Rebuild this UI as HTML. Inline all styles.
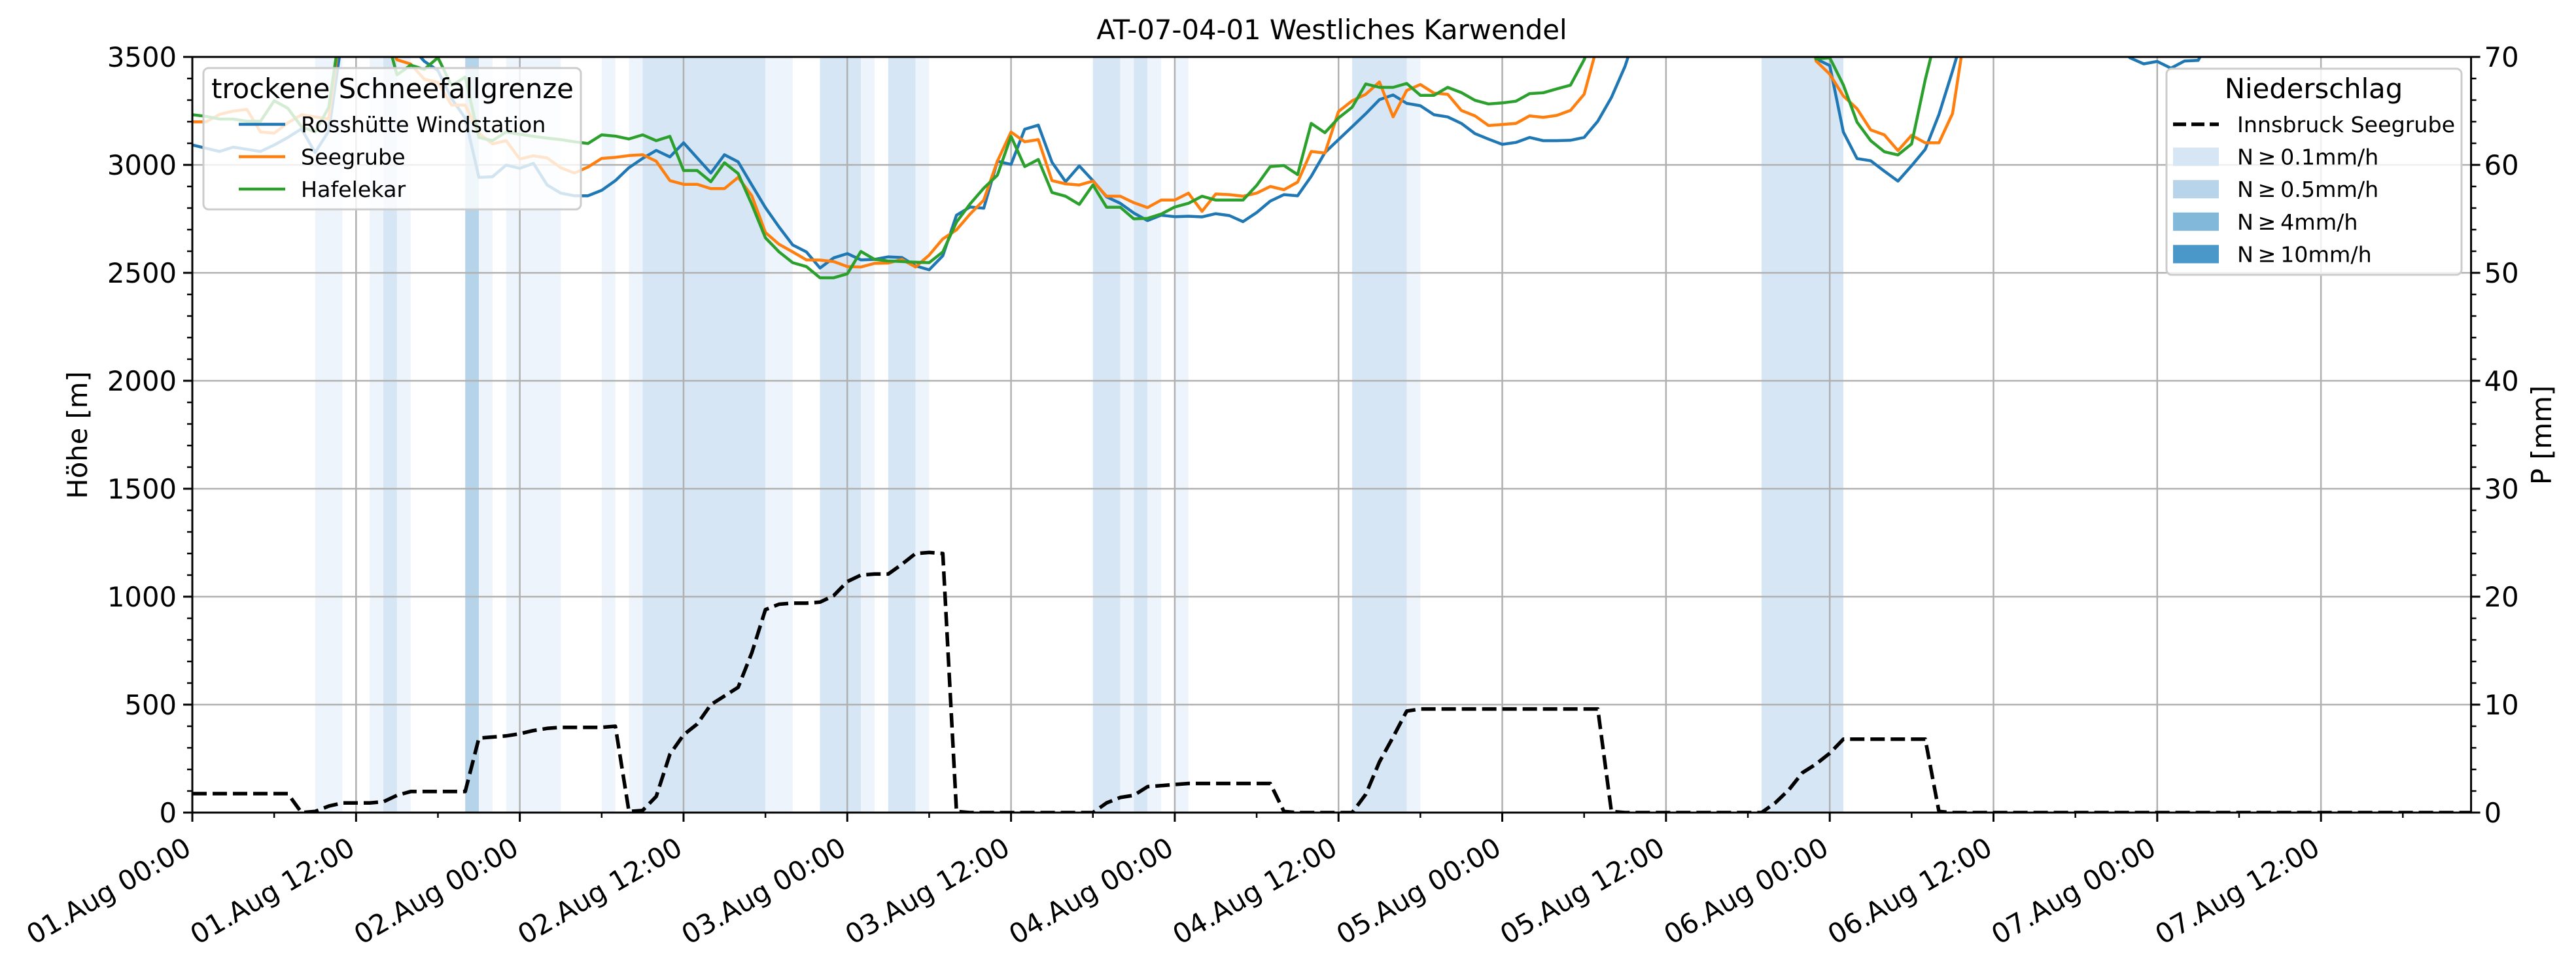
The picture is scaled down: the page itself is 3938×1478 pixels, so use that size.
<!DOCTYPE html>
<html><head><meta charset="utf-8"><title>AT-07-04-01 Westliches Karwendel</title>
<style>
html,body{margin:0;padding:0;background:#fff;}
svg{display:block;font-family:"DejaVu Sans","Liberation Sans",sans-serif;}
</style></head>
<body>
<svg id="chart" xmlns="http://www.w3.org/2000/svg" width="3938" height="1478" viewBox="0 0 3938 1478">
<defs><clipPath id="plotclip"><rect x="294" y="87" width="3484" height="1155"/></clipPath></defs>
<rect x="0" y="0" width="3938" height="1478" fill="#fff"/>
<g id="bands" clip-path="url(#plotclip)"></g>
<g id="grid"></g>
<g id="series" clip-path="url(#plotclip)"></g>
<g id="axes"></g>
<g id="legends"></g>
<text x="2036" y="60" font-size="41.7" text-anchor="middle">AT-07-04-01 Westliches Karwendel</text>
<text transform="translate(133,665) rotate(-90)" font-size="41.7" text-anchor="middle">Höhe [m]</text>
<text transform="translate(3900,665) rotate(-90)" font-size="41.7" text-anchor="middle">P [mm]</text>
</svg>
<script>
const hoursCount = 168;
const xTickLabels = ["01.Aug 00:00","01.Aug 12:00","02.Aug 00:00","02.Aug 12:00","03.Aug 00:00","03.Aug 12:00","04.Aug 00:00","04.Aug 12:00","05.Aug 00:00","05.Aug 12:00","06.Aug 00:00","06.Aug 12:00","07.Aug 00:00","07.Aug 12:00"];
const yTicks = [0,500,1000,1500,2000,2500,3000,3500];
const y2Ticks = [0,10,20,30,40,50,60,70];
const rossHuette = [3092,3077,3062,3082,3072,3062,3092,3127,3167,3057,3157,3600,3800,3800,3700,3650,3550,3480,3437,3307,3217,2942,2945,2999,2984,3007,2907,2869,2857,2857,2882,2927,2987,3030,3067,3037,3102,3032,2962,3047,3014,2907,2802,2712,2629,2597,2522,2569,2589,2560,2562,2574,2571,2532,2514,2579,2767,2805,2799,3017,3002,3165,3184,3012,2922,2995,2927,2852,2822,2777,2742,2767,2760,2762,2759,2774,2765,2737,2779,2832,2862,2857,2947,3057,3117,3177,3237,3302,3324,3285,3274,3232,3222,3192,3145,3119,3095,3104,3127,3112,3112,3114,3127,3202,3312,3457,3650,3800,3800,3800,3800,3800,3800,3800,3800,3800,3800,3800,3800,3491,3460,3152,3029,3019,2971,2925,2996,3072,3233,3435,3650,3800,3800,3800,3800,3800,3800,3800,3800,3800,3800,3560,3496,3468,3479,3448,3481,3484,3600,3800,3800,3800,3800,3800,3800,3800,3800,3800,3800,3800,3800,3800,3800,3800,3800,3800,3800,3800];
const seegrube = [3199,3199,3234,3249,3257,3152,3147,3195,3232,3222,3212,3700,3800,3800,3600,3487,3467,3397,3382,3277,3277,3147,3097,3112,3027,3042,3032,2987,2962,2990,3030,3035,3043,3047,3017,2927,2910,2910,2890,2890,2942,2857,2687,2632,2597,2560,2559,2552,2529,2527,2544,2545,2562,2527,2582,2657,2699,2772,2837,3017,3152,3107,3117,2927,2912,2907,2925,2855,2855,2825,2802,2837,2837,2869,2785,2865,2862,2855,2869,2900,2885,2920,3062,3055,3247,3297,3327,3384,3222,3345,3372,3332,3327,3252,3227,3182,3187,3192,3227,3220,3229,3252,3327,3560,3800,3800,3800,3800,3800,3800,3800,3800,3800,3800,3800,3800,3800,3800,3800,3481,3420,3319,3260,3162,3139,3066,3137,3102,3102,3238,3650,3800,3800,3800,3800,3800,3800,3800,3800,3800,3800,3800,3800,3800,3800,3800,3800,3800,3800,3800,3800,3800,3800,3800,3800,3800,3800,3800,3800,3800,3800,3800,3800,3800,3800,3800,3800,3800];
const hafelekar = [3232,3225,3212,3212,3202,3202,3297,3262,3177,3152,3267,3700,3800,3800,3650,3417,3462,3442,3497,3367,3407,3127,3112,3152,3142,3132,3124,3117,3107,3099,3139,3133,3120,3139,3112,3132,2974,2974,2922,3010,2960,2817,2662,2597,2547,2529,2477,2477,2495,2599,2562,2555,2552,2549,2547,2597,2735,2819,2892,2952,3132,2992,3025,2872,2855,2817,2907,2804,2804,2750,2752,2772,2805,2822,2855,2837,2837,2837,2905,2992,2997,2955,3192,3149,3217,3267,3375,3359,3359,3377,3322,3322,3359,3335,3299,3282,3287,3295,3330,3334,3352,3369,3487,3650,3800,3800,3800,3800,3800,3800,3800,3800,3800,3800,3800,3800,3800,3800,3800,3491,3496,3370,3198,3112,3061,3046,3097,3395,3650,3800,3800,3800,3800,3800,3800,3800,3800,3800,3800,3800,3800,3800,3800,3800,3800,3800,3800,3800,3800,3800,3800,3800,3800,3800,3800,3800,3800,3800,3800,3800,3800,3800,3800,3800,3800,3800,3800,3800];
const precipSeegrube = [1.76,1.76,1.76,1.76,1.76,1.76,1.76,1.76,0,0.1,0.6,0.9,0.9,0.9,1.0,1.6,1.95,1.95,1.95,1.95,1.95,6.9,7.0,7.1,7.3,7.6,7.8,7.9,7.9,7.9,7.9,8.0,0.1,0.2,1.5,5.4,7.2,8.2,10.0,10.8,11.6,14.8,18.8,19.3,19.4,19.4,19.5,20.1,21.4,22.0,22.1,22.1,23.0,24.0,24.1,24.0,0.1,0,0,0,0,0,0,0,0,0,0,0.9,1.4,1.6,2.4,2.5,2.6,2.7,2.7,2.7,2.7,2.7,2.7,2.7,0.1,0,0,0,0,0,1.7,4.7,7.0,9.4,9.6,9.6,9.6,9.6,9.6,9.6,9.6,9.6,9.6,9.6,9.6,9.6,9.6,9.6,0.1,0,0,0,0,0,0,0,0,0,0,0,0.9,2.1,3.7,4.5,5.5,6.8,6.8,6.8,6.8,6.8,6.8,6.8,0.1,0,0,0,0,0,0,0,0,0,0,0,0,0,0,0,0,0,0,0,0,0,0,0,0,0,0,0,0,0,0,0,0,0,0,0,0,0,0,0];
const bandStart = [9,13,14,15,20,21,23,30,32,33,42,46,49,51,53,66,68,69,70,72,85,89,115];
const bandEnd   = [11,14,15,16,21,22,27,31,33,42,44,49,50,53,54,68,69,70,71,73,89,90,121];
const bandLevel = [0,0,1,0,2,0,0,0,0,1,0,1,0,1,0,1,0,1,0,0,1,0,1];

const NS = "http://www.w3.org/2000/svg";
const L = 294, R = 3777.6, T = 87, B = 1242, XMAX = 167;
const xs = h => L + (R - L) * h / XMAX;
const ys = v => B - (B - T) * v / 3500;
const ys2 = v => B - (B - T) * v / 70;
function mk(tag, attrs, parent) {
  const e = document.createElementNS(NS, tag);
  for (const k in attrs) e.setAttribute(k, attrs[k]);
  parent.appendChild(e);
  return e;
}
const gB = document.getElementById('bands'), gG = document.getElementById('grid'),
      gS = document.getElementById('series'), gA = document.getElementById('axes'),
      gL = document.getElementById('legends');
const bandColors = ['#eef4fb', '#d6e6f4', '#b5d4e9'];
for (let i = 0; i < bandStart.length; i++) {
  const r = mk('rect', {x: xs(bandStart[i]), y: T, width: xs(bandEnd[i]) - xs(bandStart[i]), height: B - T, fill: bandColors[bandLevel[i]]}, gB);
  
  
}
// grid
for (let i = 0; i < xTickLabels.length; i++) {
  const x = xs(i * 12);
  const g = mk('line', {x1: x, x2: x, y1: T, y2: B, stroke: '#b0b0b0', 'stroke-width': 2.5}, gG);
  
  
}
for (const v of yTicks) {
  const g = mk('line', {x1: L, x2: R, y1: ys(v), y2: ys(v), stroke: '#b0b0b0', 'stroke-width': 2.5}, gG);
  
  
}
// series
function poly(arr, scale, color, width, dash, name) {
  const pts = arr.map((v, i) => xs(i).toFixed(1) + ',' + scale(v).toFixed(1)).join(' ');
  const p = mk('polyline', {points: pts, fill: 'none', stroke: color, 'stroke-width': width, 'stroke-linejoin': 'round'}, gS);
  if (dash) p.setAttribute('stroke-dasharray', dash);
  
  
}
poly(rossHuette, ys, '#1f77b4', 4.5, null, 'line-rosshuette-windstation');
poly(seegrube, ys, '#ff7f0e', 4.5, null, 'line-seegrube');
poly(hafelekar, ys, '#2ca02c', 4.5, null, 'line-hafelekar');
poly(precipSeegrube, ys2, '#000', 5.5, '22,9', 'line-precip-innsbruck-seegrube');
// axes spines
mk('rect', {x: L, y: T, width: R - L, height: B - T, fill: 'none', stroke: '#000', 'stroke-width': 3}, gA);
for (let i = 0; i < xTickLabels.length; i++) {
  const x = xs(i * 12);
  mk('line', {x1: x, x2: x, y1: B, y2: B + 14, stroke: '#000', 'stroke-width': 3}, gA);
  const t = mk('text', {transform: `translate(${x + 1},1304) rotate(-30)`, 'font-size': 41.7, 'text-anchor': 'end'}, gA);
  t.textContent = xTickLabels[i];
  
  
}
for (let h = 6; h <= XMAX; h += 12) {
  mk('line', {x1: xs(h), x2: xs(h), y1: B, y2: B + 8, stroke: '#000', 'stroke-width': 2.5}, gA);
}
for (const v of yTicks) {
  mk('line', {x1: L - 14, x2: L, y1: ys(v), y2: ys(v), stroke: '#000', 'stroke-width': 3}, gA);
  const t = mk('text', {x: L - 24, y: ys(v) + 15, 'font-size': 41.7, 'text-anchor': 'end'}, gA);
  t.textContent = v;
  
  
}
for (let v = 100; v < 3500; v += 100) {
  if (v % 500) mk('line', {x1: L - 8, x2: L, y1: ys(v), y2: ys(v), stroke: '#000', 'stroke-width': 2.5}, gA);
}
for (const v of y2Ticks) {
  mk('line', {x1: R, x2: R + 14, y1: ys2(v), y2: ys2(v), stroke: '#000', 'stroke-width': 3}, gA);
  const t = mk('text', {x: R + 20, y: ys2(v) + 15, 'font-size': 41.7}, gA);
  t.textContent = v;
  
  
}
for (let v = 2; v < 70; v += 2) {
  if (v % 10) mk('line', {x1: R, x2: R + 8, y1: ys2(v), y2: ys2(v), stroke: '#000', 'stroke-width': 2.5}, gA);
}
// legend 1
const lg1 = mk('g', {}, gL);


mk('rect', {x: 311, y: 104, width: 577, height: 216, rx: 8, fill: '#fff', 'fill-opacity': 0.8, stroke: '#cccccc', 'stroke-width': 3}, lg1);
const t1 = mk('text', {x: 600, y: 150, 'font-size': 41.7, 'text-anchor': 'middle'}, lg1);
t1.textContent = 'trockene Schneefallgrenze';


const l1Names = ['Rosshütte Windstation', 'Seegrube', 'Hafelekar'];
const l1Colors = ['#1f77b4', '#ff7f0e', '#2ca02c'];
for (let i = 0; i < 3; i++) {
  const yy = 190 + i * 49.5;
  mk('line', {x1: 365, x2: 436, y1: yy, y2: yy, stroke: l1Colors[i], 'stroke-width': 4.5}, lg1);
  const t = mk('text', {x: 460, y: yy + 12, 'font-size': 33.3}, lg1);
  t.textContent = l1Names[i];
  
  
}
// legend 2
const lg2 = mk('g', {}, gL);


mk('rect', {x: 3312, y: 105, width: 451, height: 315, rx: 8, fill: '#fff', 'fill-opacity': 0.8, stroke: '#cccccc', 'stroke-width': 3}, lg2);
const t2 = mk('text', {x: 3537, y: 150, 'font-size': 41.7, 'text-anchor': 'middle'}, lg2);
t2.textContent = 'Niederschlag';


mk('line', {x1: 3322, x2: 3392, y1: 190, y2: 190, stroke: '#000', 'stroke-width': 5.5, 'stroke-dasharray': '20,8'}, lg2);
const l2Names = ['Innsbruck Seegrube', 'N\u2009\u2265\u20090.1mm/h', 'N\u2009\u2265\u20090.5mm/h', 'N\u2009\u2265\u20094mm/h', 'N\u2009\u2265\u200910mm/h'];
const l2Colors = [null, '#d6e6f4', '#b8d4ea', '#82b9da', '#4a98c9'];
for (let i = 0; i < 5; i++) {
  const yy = 190 + i * 49.6;
  if (l2Colors[i]) mk('rect', {x: 3322, y: yy - 14, width: 70, height: 28, fill: l2Colors[i]}, lg2);
  const t = mk('text', {x: 3420, y: yy + 12, 'font-size': 33.3}, lg2);
  t.textContent = l2Names[i];
  
  
}
</script>
</body></html>
